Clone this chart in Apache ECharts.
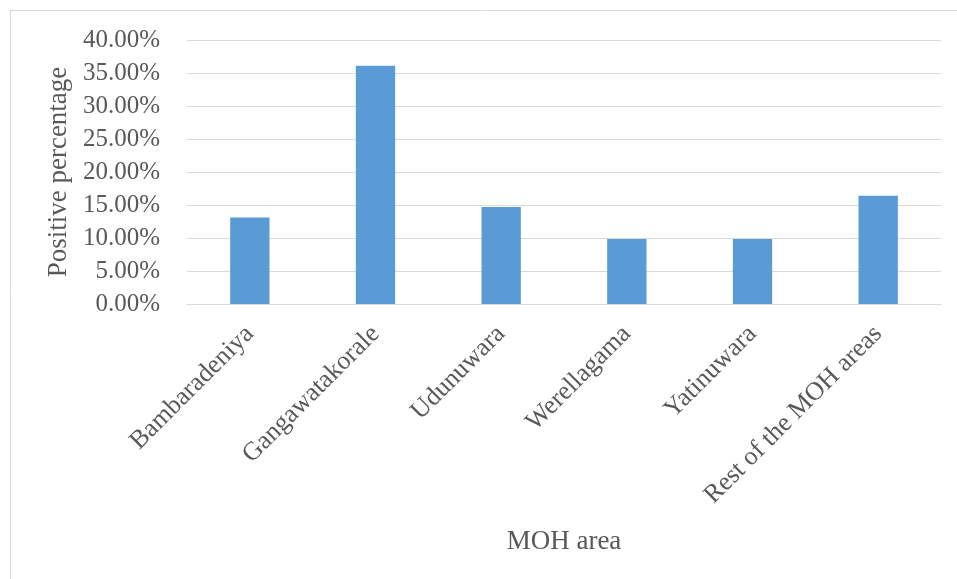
<!DOCTYPE html>
<html>
<head>
<meta charset="utf-8">
<script src="https://cdn.jsdelivr.net/npm/echarts@6/dist/echarts.min.js"></script>
<style>
  html, body { margin: 0; padding: 0; background: #fff; }
  #chart { width: 957px; height: 579px; }
</style>
</head>
<body>
<div id="chart"></div>
<script>
// MOH areas and positive percentage (fraction)
const areas = ['Bambaradeniya', 'Gangawatakorale', 'Udunuwara', 'Werellagama', 'Yatinuwara', 'Rest of the MOH areas'];
const positive = [0.131, 0.361, 0.147, 0.0985, 0.0985, 0.164];

const font = 'Liberation Serif';
const textColor = '#595959';

let myChart = echarts.init(document.getElementById('chart'));
myChart.setOption({
  animation: false,
  textStyle: { fontFamily: font },
  graphic: [{
    type: 'rect',
    shape: { x: 10.5, y: 10.5, width: 1200, height: 1200 },
    style: { fill: 'none', stroke: '#d9d9d9', lineWidth: 1 },
    silent: true
  }],
  grid: {
    left: 187,
    right: 16,
    top: 40,
    bottom: 275
  },
  xAxis: {
    type: 'category',
    data: areas,
    name: 'MOH area',
    nameLocation: 'middle',
    nameGap: 224,
    nameTextStyle: { fontFamily: font, fontSize: 27, color: textColor },
    axisLine: { lineStyle: { color: '#d9d9d9', width: 1 } },
    axisTick: { show: false },
    axisLabel: {
      rotate: 45,
      margin: 26,
      interval: 0,
      fontFamily: font,
      fontSize: 26,
      color: textColor
    }
  },
  yAxis: {
    type: 'value',
    min: 0,
    max: 0.4,
    interval: 0.05,
    name: 'Positive percentage',
    nameLocation: 'middle',
    nameRotate: 90,
    nameGap: 113,
    nameTextStyle: { fontFamily: font, fontSize: 27, color: textColor },
    axisLine: { show: false },
    axisTick: { show: false },
    splitLine: { lineStyle: { color: '#d9d9d9', width: 1 } },
    axisLabel: {
      margin: 27,
      fontFamily: font,
      fontSize: 25,
      color: textColor,
      formatter: v => (v * 100).toFixed(2) + '%'
    }
  },
  series: [{
    type: 'bar',
    data: positive,
    barWidth: '31.3%',
    itemStyle: { color: '#5b9bd5' }
  }]
});
</script>
</body>
</html>
